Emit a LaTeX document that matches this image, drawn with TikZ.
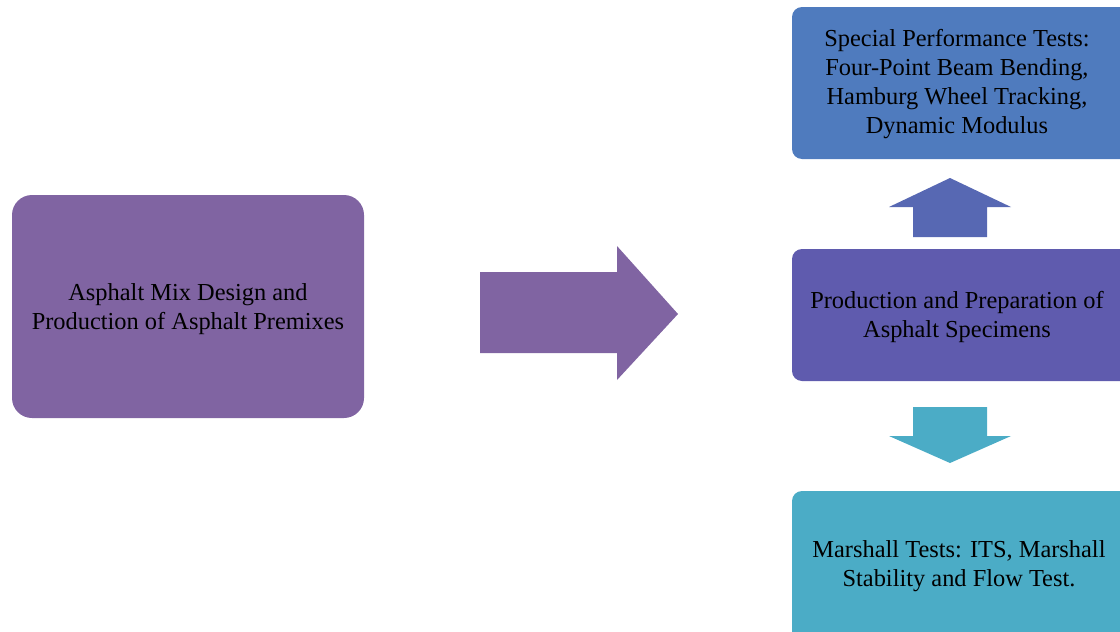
\documentclass[tikz,border=0pt]{standalone}
\usepackage{fontspec}
\setmainfont{Liberation Serif}
\definecolor{cPurple}{HTML}{8064A2}
\definecolor{cBlue}{HTML}{4F7BBE}
\definecolor{cIndigo}{HTML}{5F5BAE}
\definecolor{cUp}{HTML}{5768B3}
\definecolor{cTeal}{HTML}{4BACC6}
\begin{document}
\begin{tikzpicture}[x=1pt,y=-1pt,
  box/.style={inner sep=0pt, align=center, font=\fontsize{24.4}{29}\selectfont}]
\useasboundingbox (0,0) rectangle (1120,632);
\begin{scope}
\clip (0,0) rectangle (1120,632);
% left box
\fill[cPurple, rounded corners=20pt] (12,195) rectangle (364,418);
\node[box] (left) at (188,309) {Asphalt Mix Design and\\Production of Asphalt Premixes};
% top box
\fill[cBlue, rounded corners=10pt] (792,7) rectangle (1130,159);
\node[box] (top) at (957,84) {Special Performance Tests:\\Four-Point Beam Bending,\\Hamburg Wheel Tracking,\\Dynamic Modulus};
% middle box
\fill[cIndigo, rounded corners=10pt] (792,249) rectangle (1130,381);
\node[box] (mid) at (957,317) {Production and Preparation of\\Asphalt Specimens};
% bottom box
\fill[cTeal, rounded corners=10pt] (792,491) rectangle (1130,645);
\node[box] (bot) at (959,566) {Marshall Tests: ITS, Marshall\\Stability and Flow Test.};
% big right arrow
\fill[cPurple] (480,272) -- (617,272) -- (617,246) -- (678,314) -- (617,380) -- (617,353) -- (480,353) -- cycle;
% up arrow
\fill[cUp] (913,237) -- (913,207) -- (889,207) -- (950,178) -- (1011,207) -- (987,207) -- (987,237) -- cycle;
% down arrow
\fill[cTeal] (913,407) -- (913,436) -- (889,436) -- (950,463) -- (1011,436) -- (987,436) -- (987,407) -- cycle;
\end{scope}
\end{tikzpicture}
\end{document}
